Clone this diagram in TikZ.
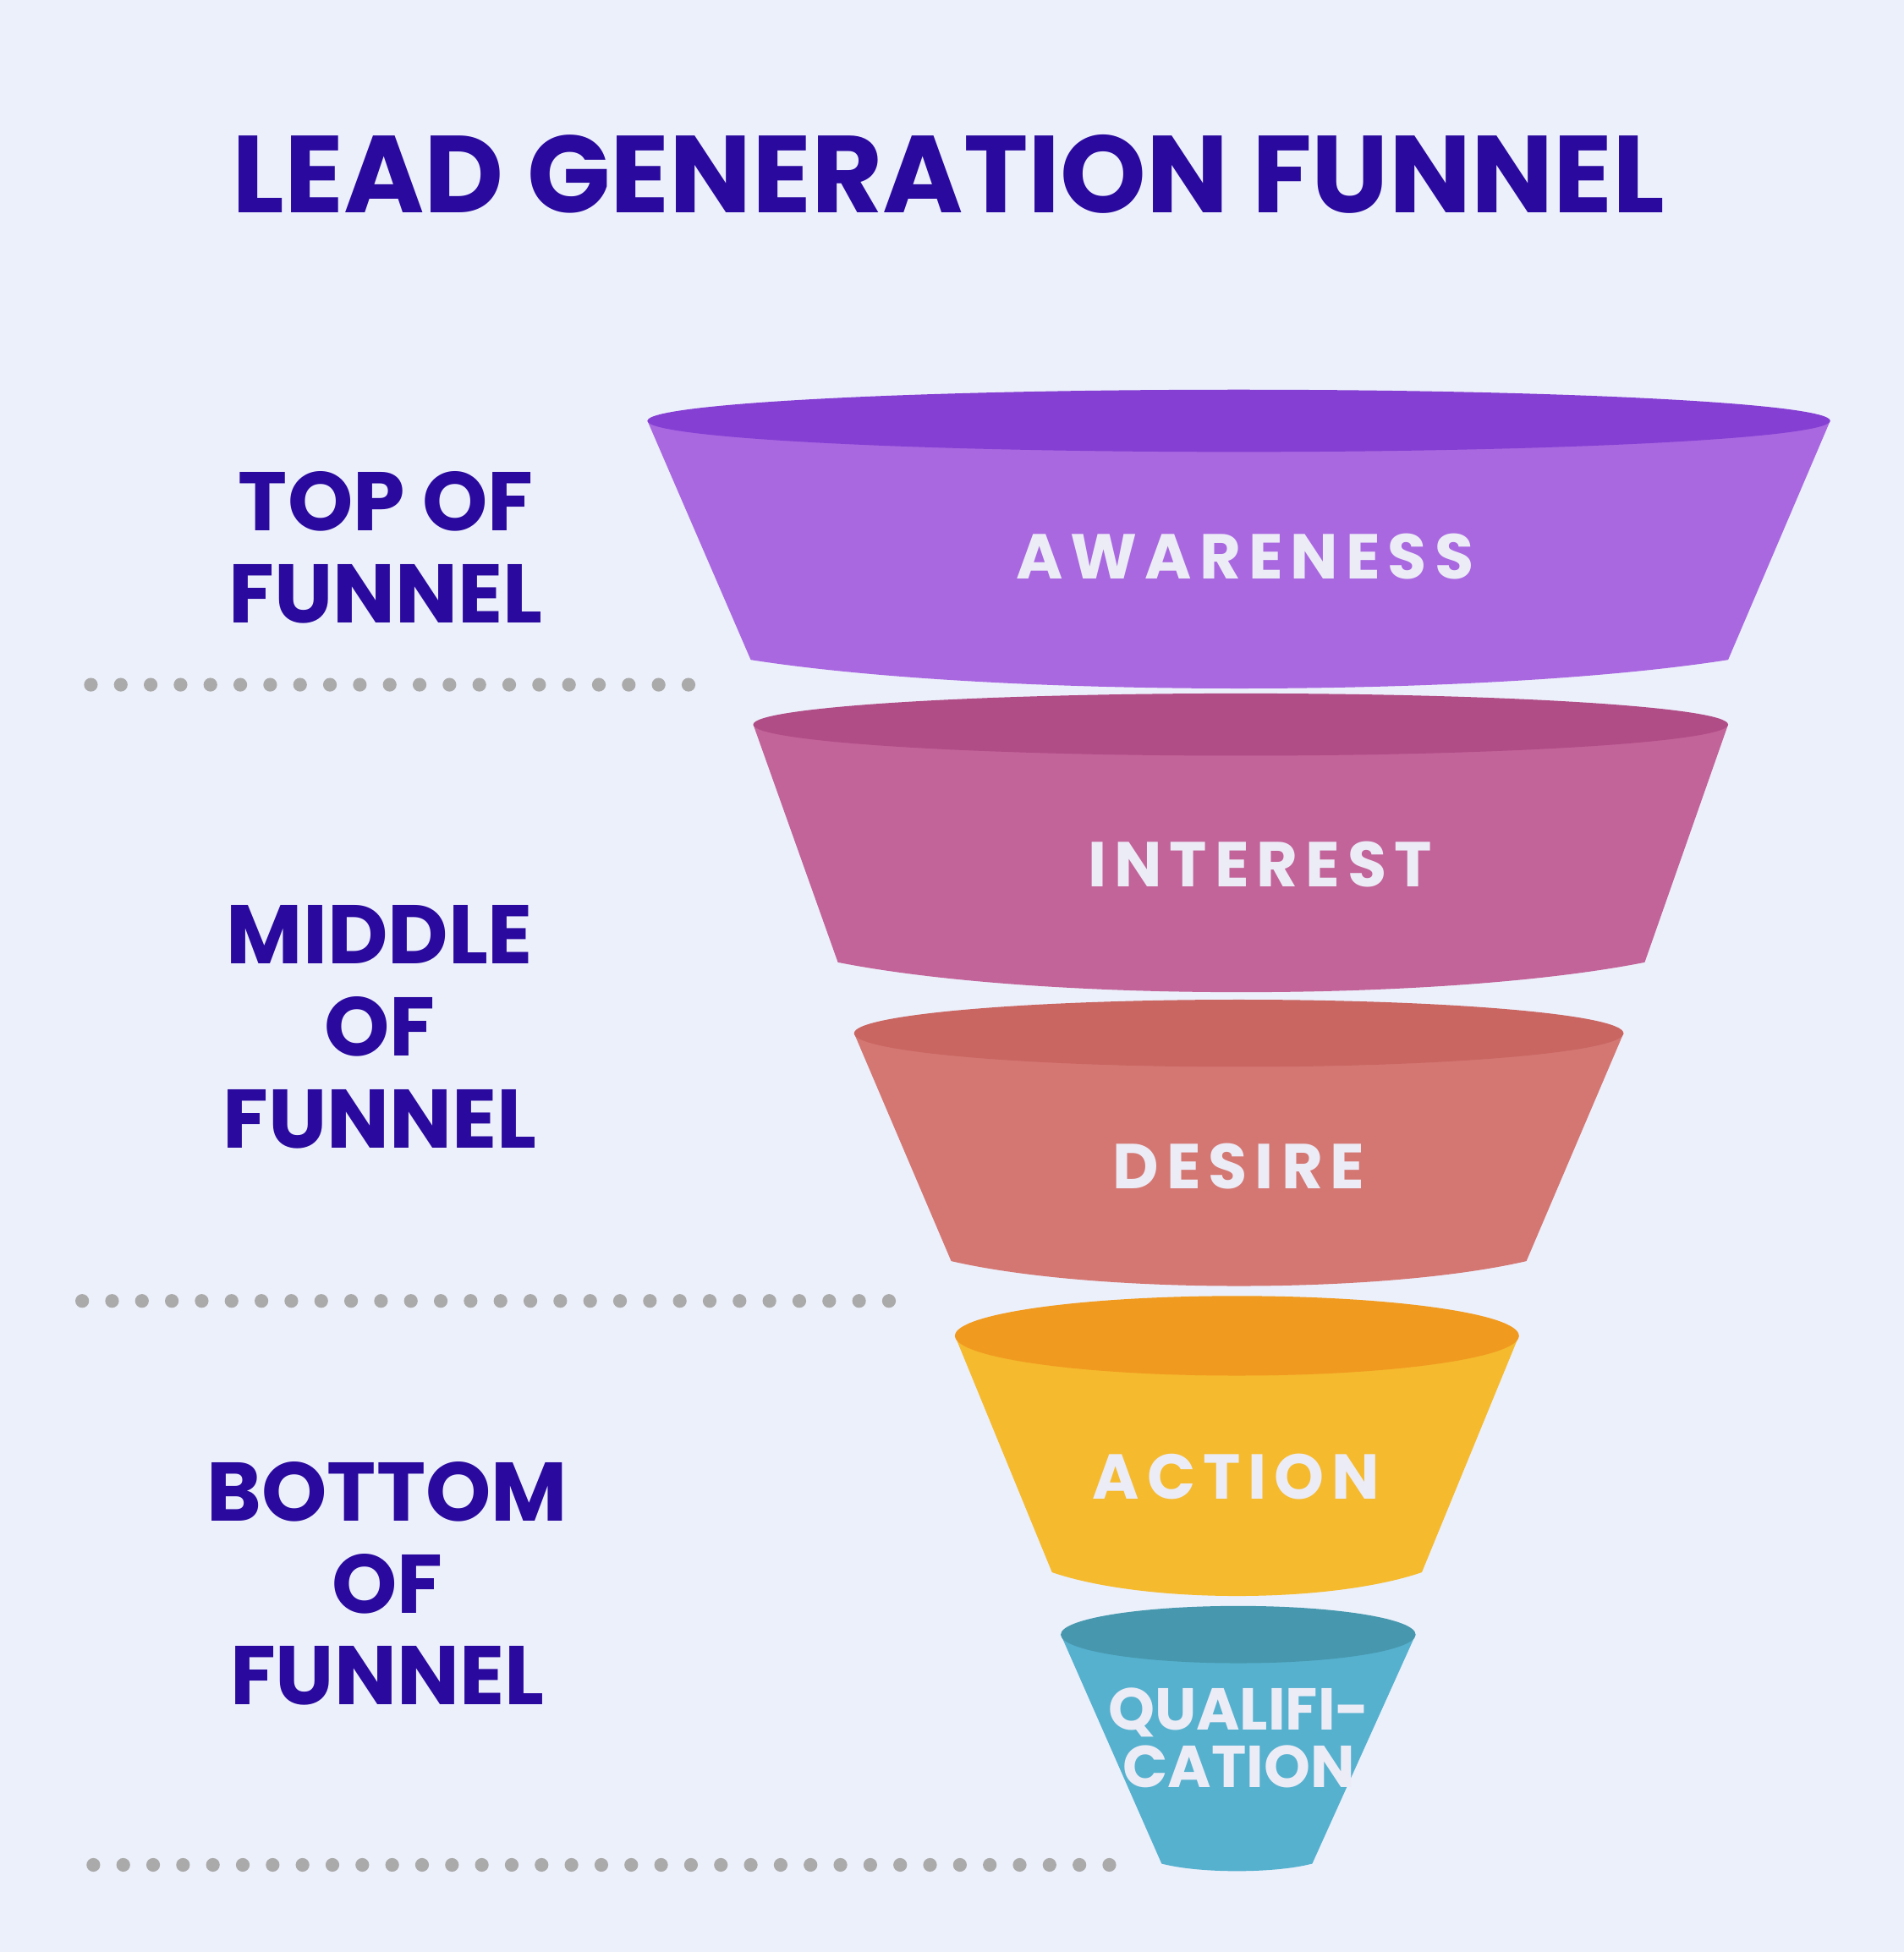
\documentclass[tikz,border=0pt]{standalone}
\usepackage{fontspec}
\setmainfont{Poppins}
\newfontfamily\spaced[LetterSpace=12]{Poppins}
\definecolor{bg}{HTML}{ECF0FB}
\definecolor{ink}{HTML}{2A0A9E}
\definecolor{txt}{HTML}{ECECF6}
\definecolor{dotc}{HTML}{AAAAAA}
\definecolor{s1}{HTML}{A968E0}\definecolor{t1}{HTML}{8540D3}
\definecolor{s2}{HTML}{C26399}\definecolor{t2}{HTML}{B04D87}
\definecolor{s3}{HTML}{D47773}\definecolor{t3}{HTML}{C96662}
\definecolor{s4}{HTML}{F5BA2E}\definecolor{t4}{HTML}{F09A20}
\definecolor{s5}{HTML}{56B1CF}\definecolor{t5}{HTML}{4798AE}
% #1 topL #2 topR #3 yt #4 ry #5 botL #6 botR #7 yb #8 bulge #9 index
\newcommand\funseg[9]{%
  \fill[s#9] (#1,#3) -- (#5,#7) .. controls ({#5+0.25*(#6-#5)},{#7+4/3*#8}) and ({#6-0.25*(#6-#5)},{#7+4/3*#8}) .. (#6,#7) -- (#2,#3) -- cycle;
  \fill[t#9] ({(#1+#2)/2},#3) ellipse [x radius={(#2-#1)/2*0.01cm}, y radius={#4*0.01cm}];
}
\tikzset{side/.style={font=\bfseries\fontsize{19}{21}\selectfont, text=ink, align=center},
  lab/.style={font=\spaced\bfseries\fontsize{14.5}{15}\selectfont, text=txt, align=center}}
\begin{document}
\begin{tikzpicture}[x=0.01cm,y=-0.01cm]
\fill[bg] (0,0) rectangle (1529,1568);
\useasboundingbox (0,0) rectangle (1529,1568);
\node[font=\bfseries\fontsize{25}{28}\selectfont, text=ink] (title) at (762,140) {LEAD GENERATION FUNNEL};
\funseg{520}{1470}{338}{25}{603}{1388}{530}{23}{1}
\funseg{605}{1388}{582}{25}{673}{1321}{773}{24}{2}
\funseg{686}{1304}{830}{27}{764}{1226}{1013}{20}{3}
\funseg{767}{1220}{1073}{32}{845}{1142}{1263}{19}{4}
\funseg{852}{1137}{1313}{23}{933}{1054}{1497}{6}{5}
\node[lab] (aw) at (1000,447) {AWARENESS};
\node[lab] (in) at (1012,694) {INTEREST};
\node[lab] (de) at (995,937) {DESIRE};
\node[lab] (ac) at (993,1186) {ACTION};
\node[font=\bfseries\fontsize{13.5}{13}\selectfont, text=txt, align=center] (qu) at (995,1396) {QUALIFI-\\CATION};
\node[side] (tof) at (310,440) {TOP OF\\FUNNEL};
\node[side] (mof) at (305,825) {MIDDLE\\OF\\FUNNEL};
\node[side] (bof) at (311,1272) {BOTTOM\\OF\\FUNNEL};
\foreach \x in {73,97,...,560} \fill[dotc] (\x,550) circle[radius=0.055cm];
\foreach \x in {66,90,...,725} \fill[dotc] (\x,1045) circle[radius=0.055cm];
\foreach \x in {75,99,...,903} \fill[dotc] (\x,1498) circle[radius=0.055cm];
\end{tikzpicture}
\end{document}
